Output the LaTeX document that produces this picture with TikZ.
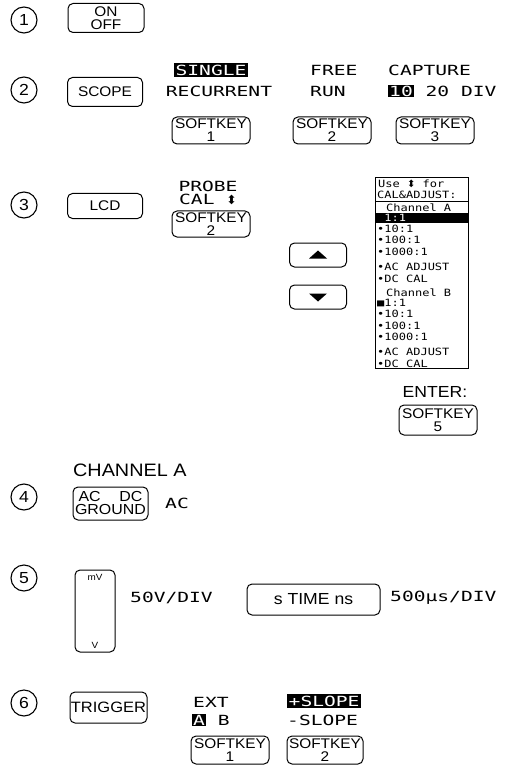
\documentclass[tikz,border=0pt]{standalone}
\usepackage{fontspec}
\setmainfont[FakeStretch=1.1]{Liberation Sans}
\newfontfamily\lcdf[FakeStretch=1.4]{DejaVu Sans Mono}
\newfontfamily\pnlf[FakeStretch=1.2]{DejaVu Sans Mono}
\newfontfamily\symf{DejaVu Sans}
\newcommand\inv[1]{{\setlength\fboxsep{1pt}\colorbox{black}{\textcolor{white}{#1}}}}
\newcommand\updn{{\symf\fontsize{10}{10}\selectfont ⬍}}
\newcommand\updnbig{{\symf\fontsize{12.5}{12.5}\selectfont ⬍}}
\begin{document}
\begin{tikzpicture}[x=1pt,y=-1pt,
  btn/.style={draw, rounded corners=5pt, line width=1pt, inner sep=0pt, align=center, font=\fontsize{14}{13}\selectfont},
  num/.style={draw, circle, minimum size=26pt, inner sep=0pt, line width=1.1pt, font=\fontsize{16}{16}\selectfont},
  lcd/.style={inner sep=0pt, font=\lcdf\fontsize{14}{14}\selectfont},
  lcdinv/.style={lcd, fill=black, text=white, inner sep=1.5pt},
  sk/.style={btn, minimum width=78pt, minimum height=27pt},
  pl/.style={inner sep=0pt, anchor=west, font=\pnlf\fontsize{10}{10}\selectfont},
  lbl/.style={inner sep=0pt, font=\fontsize{16}{16}\selectfont}]
\useasboundingbox (0,0) rectangle (510,767);
% row 1
\node[num] (c1) at (24,20) {1};
\node[btn, minimum width=76pt, minimum height=29pt] (onoff) at (106,18) {ON\\OFF};
% row 2
\node[num] (c2) at (24,90) {2};
\node[btn, minimum width=75pt, minimum height=29pt] (scope) at (105,92) {SCOPE};
\node[lcdinv] (single) at (211,70) {SINGLE};
\node[lcd] (recur) at (219,91) {RECURRENT};
\node[sk] (sk1) at (211,130.5) {SOFTKEY\\1};
\node[lcd, anchor=west] (free) at (310,70) {FREE};
\node[lcd, anchor=west] (run) at (310,91) {RUN};
\node[sk] (sk2) at (332,130.5) {SOFTKEY\\2};
\node[lcd, anchor=west] (capture) at (388,70) {CAPTURE};
\node[lcd, anchor=west] (div) at (388,91) {\inv{10} 20 DIV};
\node[sk] (sk3) at (435,130.5) {SOFTKEY\\3};
% row 3
\node[num] (c3) at (24,205) {3};
\node[btn, minimum width=75pt, minimum height=25pt] (lcdb) at (105,206) {LCD};
\node[lcd] (probe) at (208,186) {PROBE};
\node[lcd] (cal) at (208,199.5) {CAL \updnbig};
\node[sk, minimum height=26pt] (sk2b) at (211,224) {SOFTKEY\\2};
\node[btn, minimum width=57pt, minimum height=24pt] (up) at (318,255) {};
\fill ([xshift=-9pt,yshift=-3.5pt]up.center) -- ([xshift=9pt,yshift=-3.5pt]up.center) -- ([yshift=4.5pt]up.center) -- cycle;
\node[btn, minimum width=57pt, minimum height=24pt] (down) at (318,297) {};
\fill ([xshift=-9pt,yshift=3.5pt]down.center) -- ([xshift=9pt,yshift=3.5pt]down.center) -- ([yshift=-4.5pt]down.center) -- cycle;
% LCD panel
\node[draw, line width=1pt, minimum width=93pt, minimum height=190pt, inner sep=0pt] (panel) at (421.5,273) {};
\draw[line width=0.8pt] (375,201) -- (468,201);
\fill (375,213) rectangle (468,223);
\node[pl] at (378,184) {Use \updn{} for};
\node[pl] at (377,195) {CAL\&ADJUST:};
\node[pl] at (386,208) {Channel A};
\node[pl, text=white] at (377,218) {\phantom{•}1:1};
\node[pl] at (377,229) {•10:1};
\node[pl] at (377,240) {•100:1};
\node[pl] at (377,252) {•1000:1};
\node[pl] at (377,267) {•AC ADJUST};
\node[pl] at (377,279) {•DC CAL};
\node[pl] at (386,293) {Channel B};
\node[pl] at (377,303) {■1:1};
\node[pl] at (377,314) {•10:1};
\node[pl] at (377,326) {•100:1};
\node[pl] at (377,337) {•1000:1};
\node[pl] at (377,352) {•AC ADJUST};
\node[pl] at (377,364) {•DC CAL};
\node[lbl] (enter) at (435,392) {ENTER:};
\node[sk, minimum height=30pt] (sk5) at (438,420) {SOFTKEY\\5};
% row 4
\node[lbl, anchor=west, font=\fontsize{18}{18}\selectfont] (cha) at (73,470) {CHANNEL A};
\node[num] (c4) at (24,497) {4};
\node[btn, minimum width=75pt, minimum height=33pt, font=\fontsize{14.5}{13}\selectfont] (acdc) at (110.5,503.5) {\makebox[64pt]{AC\hfill DC}\\GROUND};
\node[lcd] (acv) at (177,503) {AC};
% row 5
\node[num] (c5) at (24,578) {5};
\node[btn, minimum width=40pt, minimum height=82pt] (mv) at (95,611) {};
\node[inner sep=0pt, font=\fontsize{9}{9}\selectfont] (mvt) at (95,577) {mV};
\node[inner sep=0pt, font=\fontsize{9}{9}\selectfont] (vt) at (95,645) {V};
\node[lcd, anchor=west] (vdiv) at (130,598) {50V/DIV};
\node[btn, minimum width=133pt, minimum height=31pt, font=\fontsize{16}{16}\selectfont] (time) at (313.5,599.5) {s TIME ns};
\node[lcd, anchor=west] (tdiv) at (390,598) {500µs/DIV};
% row 6
\node[num] (c6) at (24,703) {6};
\node[btn, minimum width=77pt, minimum height=31pt, font=\fontsize{15}{15}\selectfont] (trig) at (108.5,707.5) {TRIGGER};
\node[lcd, anchor=west] (ext) at (193,702) {EXT};
\node[lcd, anchor=west] (ab) at (192,720) {\inv{A} B};
\node[sk, minimum height=28pt] (sk61) at (230,750) {SOFTKEY\\1};
\node[lcdinv, anchor=west] (pslope) at (287,701) {+SLOPE};
\node[lcd, anchor=west] (mslope) at (287,720) {-SLOPE};
\node[sk, minimum width=76pt, minimum height=28pt] (sk62) at (325,750) {SOFTKEY\\2};
\end{tikzpicture}
\end{document}
